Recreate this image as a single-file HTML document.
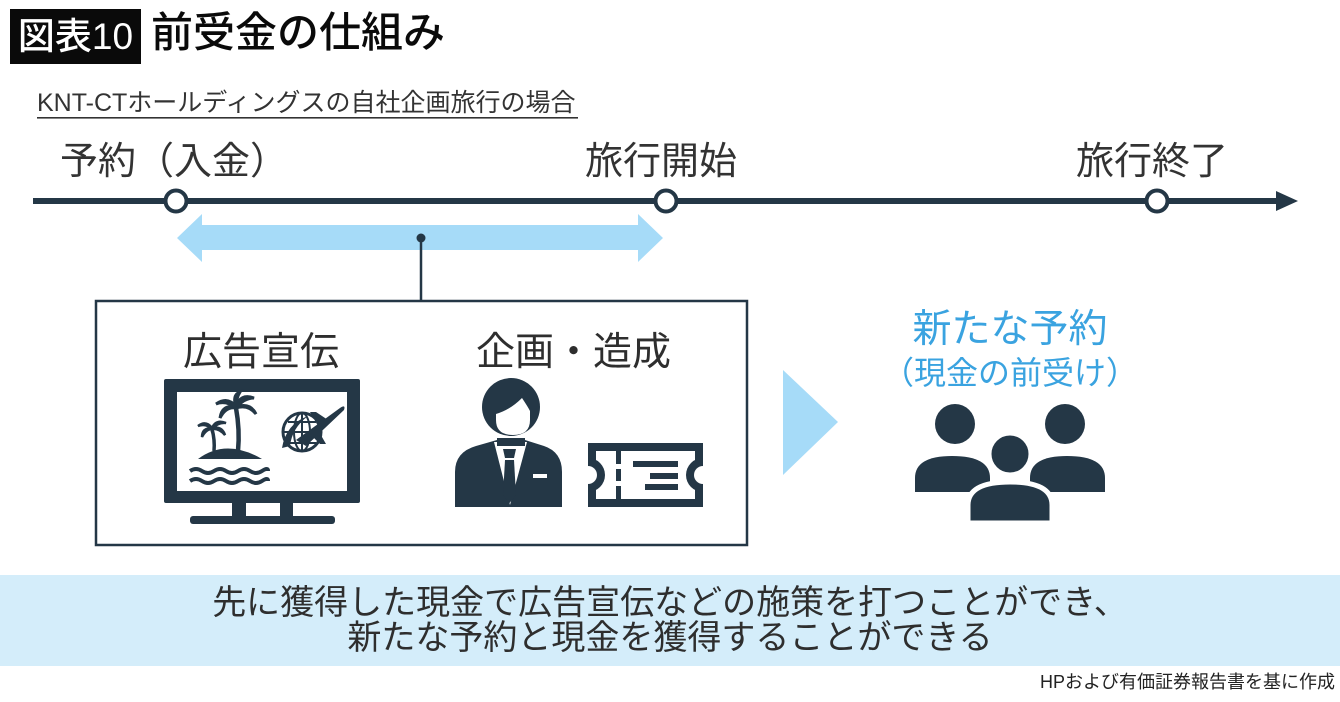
<!DOCTYPE html>
<html><head><meta charset="utf-8"><style>
*{margin:0;padding:0;box-sizing:border-box}
body{width:1340px;height:702px;background:#fff;position:relative;overflow:hidden;font-family:"Liberation Sans","Noto Sans CJK JP",sans-serif;color:#2e2e2e}
.t{position:absolute;line-height:1;white-space:nowrap}
svg{position:absolute;left:0;top:0}
</style></head><body>
<svg width="1340" height="702" viewBox="0 0 1340 702">
<defs>
<clipPath id="tk"><rect x="588" y="443" width="115" height="64"/></clipPath>
</defs>
<rect x="10" y="9" width="131" height="55" fill="#0a0a0a"/>
<rect x="37" y="117" width="541" height="1.6" fill="#333"/>
<rect x="0" y="575" width="1340" height="91" fill="#d4edfa"/>
<rect x="33" y="198" width="1250" height="6" fill="#243746"/>
<polygon points="1276,191 1298,201 1276,211" fill="#243746"/>
<circle cx="176" cy="201" r="10.5" fill="#fff" stroke="#243746" stroke-width="4"/>
<circle cx="666" cy="201" r="10.5" fill="#fff" stroke="#243746" stroke-width="4"/>
<circle cx="1157" cy="201" r="10.5" fill="#fff" stroke="#243746" stroke-width="4"/>
<polygon points="177,238 202,214 202,225 638,225 638,214 663,238 638,262 638,250 202,250 202,262" fill="#a6dbf8"/>
<line x1="421" y1="238" x2="421" y2="301" stroke="#243746" stroke-width="2.5"/>
<circle cx="421" cy="238" r="4.5" fill="#243746"/>
<rect x="96" y="301" width="651" height="244" fill="none" stroke="#243746" stroke-width="2.5"/>
<rect x="164" y="379" width="196" height="124" rx="2" fill="#243746"/>
<rect x="177" y="392" width="170" height="99" fill="#fff"/>
<rect x="232" y="502" width="14" height="16" fill="#243746"/>
<rect x="280" y="502" width="13" height="16" fill="#243746"/>
<rect x="190" y="516" width="145" height="8" rx="3" fill="#243746"/>
<path d="M198,459 Q226,438 262,459 Z" fill="#243746"/>
<path d="M190,471 q6,-4 12,0 t12,0 t12,0 t12,0 t12,0 t12,0 t6,0" fill="none" stroke="#243746" stroke-width="4"/>
<path d="M190,481 q6,-4 12,0 t12,0 t12,0 t12,0 t12,0 t12,0 t6,0" fill="none" stroke="#243746" stroke-width="4"/>
<path d="M238,451 Q240,430 236,408" fill="none" stroke="#243746" stroke-width="4.5"/>
<path d="M236,407 Q228,396 216,404 Q226,400 236,408 Z M236,407 Q240,393 254,398 Q244,398 236,408 Z M236,407 Q250,402 256,414 Q248,404 236,408 Z M236,407 Q222,404 220,418 Q226,406 236,408 Z M236,407 Q232,395 240,392 Q236,398 236,408 Z" fill="#243746" stroke="#243746" stroke-width="3"/>
<path d="M214,451 Q215,440 212,429" fill="none" stroke="#243746" stroke-width="3.5"/>
<path d="M212,428 Q206,420 198,426 Q206,423 212,429 Z M212,428 Q216,419 226,423 Q218,422 212,429 Z M212,428 Q222,426 225,435 Q219,428 212,429 Z M212,428 Q202,428 202,437 Q206,429 212,429 Z" fill="#243746" stroke="#243746" stroke-width="2.5"/>
<circle cx="302" cy="432" r="19" fill="none" stroke="#243746" stroke-width="3"/>
<path d="M284,432 H320 M302,413 V451 M288,422 H316 M288,443 H316" stroke="#243746" stroke-width="2" fill="none"/>
<ellipse cx="302" cy="432" rx="8" ry="19" fill="none" stroke="#243746" stroke-width="2"/>
<path d="M282,448 Q286,424 308,416 Q292,428 290,446 Z" fill="#243746"/>
<path d="M296,440 L340,408 Q346,404 344,410 L306,446 Z M318,426 L310,412 L316,412 L328,420 Z M318,430 L326,444 L320,444 L312,436 Z" fill="#243746"/>
<path d="M455,507 L455,472 Q455,452 476,446 L497,440 L525,440 L544,446 Q562,452 562,472 L562,507 Z" fill="#243746"/>
<polygon points="494,442 527,442 510,505" fill="#fff"/>
<polygon points="503,449 516,449 514,458 505,458" fill="#243746"/>
<polygon points="505,460 514,460 516,495 509.5,503 503,495" fill="#243746"/>
<rect x="533" y="474" width="14" height="4" fill="#fff"/>
<ellipse cx="511" cy="407" rx="29" ry="29" fill="#243746"/>
<path d="M497,438 L497,446 L525,446 L525,438 Z" fill="#243746"/>
<path d="M496,414 Q510,410 522,398 Q528,407 530,411 L530,420 Q530,435 513,435 Q496,435 496,420 Z" fill="#fff"/>
<rect x="588" y="443" width="115" height="64" fill="#243746"/>
<rect x="596" y="451" width="99" height="48" fill="#fff"/>
<g clip-path="url(#tk)">
<circle cx="588" cy="475" r="17" fill="#243746"/>
<circle cx="703" cy="475" r="17" fill="#243746"/>
</g>
<circle cx="588" cy="475" r="9" fill="#fff"/>
<circle cx="703" cy="475" r="9" fill="#fff"/>
<rect x="616" y="451" width="5" height="13" fill="#243746"/>
<rect x="616" y="469" width="5" height="12" fill="#243746"/>
<rect x="616" y="486" width="5" height="13" fill="#243746"/>
<rect x="633" y="461" width="45" height="6" fill="#243746"/>
<rect x="650" y="473" width="28" height="6" fill="#243746"/>
<rect x="645" y="484" width="33" height="6" fill="#243746"/>
<polygon points="783,370 838,422 783,475" fill="#a6dbf8"/>
<path d="M915,492 L915,478 Q915,456 952,456 Q990,456 990,478 L990,492 Z" fill="#243746"/>
<path d="M1030,492 L1030,478 Q1030,456 1067,456 Q1105,456 1105,478 L1105,492 Z" fill="#243746"/>
<circle cx="955" cy="424" r="20" fill="#243746"/>
<circle cx="1065" cy="424" r="20" fill="#243746"/>
<path d="M968,523 L968,505 Q968,482 1010,482 Q1052,482 1052,505 L1052,523 Z" fill="#243746" stroke="#fff" stroke-width="5"/>
<circle cx="1010" cy="454" r="21" fill="#243746" stroke="#fff" stroke-width="5"/>
</svg>

<div class="t" style="left:10px;top:9px;width:131px;height:55px;display:flex;align-items:center;justify-content:center;color:#fff;font-size:37px;font-weight:500">図表10</div>
<div class="t" style="left:151px;top:12px;font-size:42px;color:#0a0a0a;font-weight:500">前受金の仕組み</div>
<div class="t" style="left:37px;top:91px;font-size:25px;color:#333">KNT-CTホールディングスの自社企画旅行の場合</div>

<div class="t" style="left:60px;top:143px;font-size:38px;color:#333">予約（入金）</div>
<div class="t" style="left:585px;top:143px;font-size:38px;color:#333">旅行開始</div>
<div class="t" style="left:1076px;top:143px;font-size:38px;color:#333">旅行終了</div>

<div class="t" style="left:183px;top:333px;font-size:39px;color:#2e2e2e">広告宣伝</div>
<div class="t" style="left:476px;top:333px;font-size:39px;color:#2e2e2e">企画・造成</div>

<div class="t" style="left:880px;top:310px;width:260px;text-align:center;font-size:39px;color:#3aa3e0">新たな予約</div>
<div class="t" style="left:880px;top:357px;width:260px;text-align:center;font-size:32px;color:#3aa3e0">（現金の前受け）</div>

<div class="t" style="left:0;top:586px;width:1340px;text-align:center;font-size:34px;line-height:35px;color:#2e2e2e;white-space:normal">先に獲得した現金で広告宣伝などの施策を打つことができ、<br>新たな予約と現金を獲得することができる</div>

<div class="t" style="right:5px;top:673px;font-size:18px;color:#222">HPおよび有価証券報告書を基に作成</div>
</body></html>
